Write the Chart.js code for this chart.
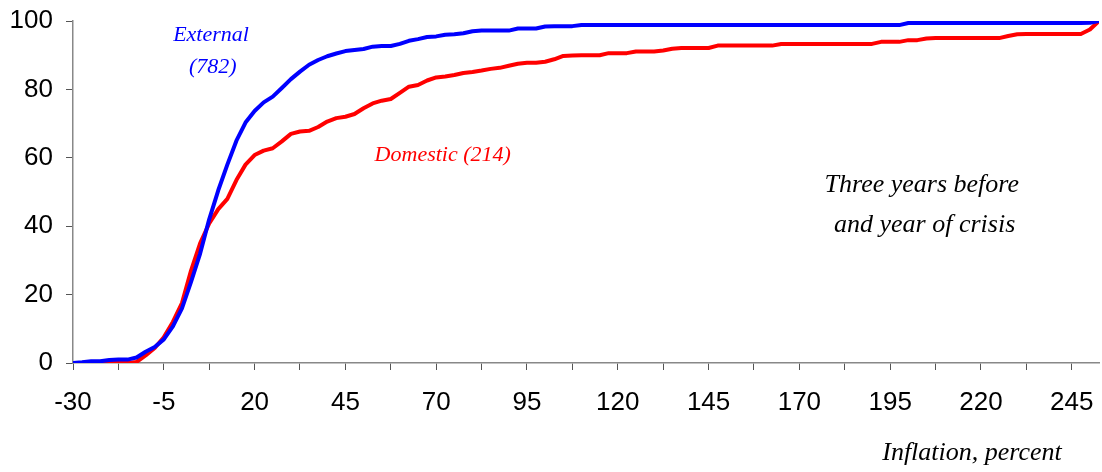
<!DOCTYPE html>
<html>
<head>
<meta charset="utf-8">
<script src="https://cdn.jsdelivr.net/npm/chart.js@4/dist/chart.umd.min.js"></script>
<style>
  html, body { margin: 0; padding: 0; background: #fff; }
  #wrap { width: 1102px; height: 472px; position: relative; }
</style>
</head>
<body>
<div id="wrap"><canvas id="cdfChart"></canvas></div>
<script>
// inflation (percent) at which each cumulative share is read
const inflation = [
  -30, -27.5, -25, -22.5, -20, -17.5, -15, -12.5, -10, -7.5,
  -5, -2.5, 0, 2.5, 5, 7.5, 10, 12.5, 15, 17.5,
  20, 22.5, 25, 27.5, 30, 32.5, 35, 37.5, 40, 42.5,
  45, 47.5, 50, 52.5, 55, 57.5, 60, 62.5, 65, 67.5,
  70, 72.5, 75, 77.5, 80, 82.5, 85, 87.5, 90, 92.5,
  95, 97.5, 100, 102.5, 105, 107.5, 110, 112.5, 115, 117.5,
  120, 122.5, 125, 127.5, 130, 132.5, 135, 137.5, 140, 142.5,
  145, 147.5, 150, 152.5, 155, 157.5, 160, 162.5, 165, 167.5,
  170, 172.5, 175, 177.5, 180, 182.5, 185, 187.5, 190, 192.5,
  195, 197.5, 200, 202.5, 205, 207.5, 210, 212.5, 215, 217.5,
  220, 222.5, 225, 227.5, 230, 232.5, 235, 237.5, 240, 242.5,
  245, 247.5, 250, 252.5
];

// cumulative percent of episodes, external crises (782)
const external = [
  0, 0.2, 0.5, 0.5, 0.9, 1, 1, 1.6, 3.3, 4.7,
  6.9, 10.7, 16, 23.7, 32, 42, 50.5, 58, 65, 70.3,
  73.7, 76.2, 77.9, 80.4, 83, 85.2, 87.2, 88.6, 89.7, 90.5,
  91.2, 91.5, 91.8, 92.5, 92.7, 92.7, 93.3, 94.2, 94.7, 95.3,
  95.5, 96, 96.1, 96.4, 97, 97.2, 97.2, 97.2, 97.2, 97.8,
  97.8, 97.8, 98.4, 98.5, 98.5, 98.5, 98.8, 98.8, 98.8, 98.8,
  98.8, 98.8, 98.8, 98.8, 98.8, 98.8, 98.8, 98.8, 98.8, 98.8,
  98.8, 98.8, 98.8, 98.8, 98.8, 98.8, 98.8, 98.8, 98.8, 98.8,
  98.8, 98.8, 98.8, 98.8, 98.8, 98.8, 98.8, 98.8, 98.8, 98.8,
  98.8, 98.8, 99.4, 99.4, 99.4, 99.4, 99.4, 99.4, 99.4, 99.4,
  99.4, 99.4, 99.4, 99.4, 99.4, 99.4, 99.4, 99.4, 99.4, 99.4,
  99.4, 99.4, 99.5, 100
];

// cumulative percent of episodes, domestic crises (214)
const domestic = [
  0, 0, 0, 0, 0, 0, 0, 0.3, 2.2, 4.4,
  7.5, 12, 17.5, 27, 35, 40.8, 45, 48, 53.5, 58,
  60.8, 62.1, 62.8, 64.8, 67, 67.7, 67.9, 69, 70.6, 71.6,
  72, 72.8, 74.5, 75.9, 76.7, 77.2, 79, 80.8, 81.3, 82.6,
  83.5, 83.8, 84.2, 84.8, 85.1, 85.5, 86, 86.3, 86.9, 87.5,
  87.8, 87.8, 88.1, 88.8, 89.8, 89.9, 90, 90, 90, 90.6,
  90.6, 90.6, 91.1, 91.1, 91.1, 91.4, 91.9, 92.1, 92.1, 92.1,
  92.1, 92.8, 92.8, 92.8, 92.8, 92.8, 92.8, 92.8, 93.3, 93.3,
  93.3, 93.3, 93.3, 93.3, 93.3, 93.3, 93.3, 93.3, 93.3, 93.9,
  93.9, 93.9, 94.4, 94.4, 94.9, 95, 95, 95, 95, 95,
  95, 95, 95, 95.6, 96.1, 96.2, 96.2, 96.2, 96.2, 96.2,
  96.2, 96.2, 97.5, 100
];

// labelled x ticks; an unlabelled tick mark sits halfway between each pair
const xTickLabels = [-30, -5, 20, 45, 70, 95, 120, 145, 170, 195, 220, 245];
const yTicks = [0, 20, 40, 60, 80, 100];

const xTickMarks = [];
xTickLabels.forEach((v, i) => {
  xTickMarks.push(v);
  if (i < xTickLabels.length - 1) xTickMarks.push((v + xTickLabels[i + 1]) / 2);
});

const toPoints = ys => inflation.map((x, i) => ({ x: x, y: ys[i] }));

// free text placed in data units
const notes = [
  { text: "External", x: 8, y: 95.9, color: "#0000ff", size: 22 },
  { text: "(782)", x: 8.5, y: 86.5, color: "#0000ff", size: 22 },
  { text: "Domestic (214)", x: 71.8, y: 60.8, color: "#ff0000", size: 22 },
  { text: "Three years before", x: 203.7, y: 52, color: "#000", size: 26 },
  { text: "and year of crisis", x: 204.5, y: 40.4, color: "#000", size: 26 }
];

const notesPlugin = {
  id: "notes",
  afterDraw(chart) {
    const c = chart.ctx;
    const xs = chart.scales.x, ys = chart.scales.y;
    c.save();
    c.textAlign = "center";
    c.textBaseline = "middle";
    notes.forEach(n => {
      c.font = "italic " + n.size + "px 'Liberation Serif', 'DejaVu Serif', serif";
      c.fillStyle = n.color;
      c.fillText(n.text, xs.getPixelForValue(n.x), ys.getPixelForValue(n.y));
    });
    // axis title under the tick labels, right side
    c.font = "italic 26px 'Liberation Serif', 'DejaVu Serif', serif";
    c.fillStyle = "#000";
    c.textBaseline = "alphabetic";
    c.fillText("Inflation, percent", 972, 460);
    c.restore();
  }
};

const ctx = document.getElementById("cdfChart");

new Chart(ctx, {
    type: "line",
    data: {
        datasets: [
            {
                label: "External (782)",
                data: toPoints(external),
                borderColor: "#0000ff",
                borderWidth: 4,
                pointRadius: 0,
                tension: 0,
                borderJoinStyle: "round"
            },
            {
                label: "Domestic (214)",
                data: toPoints(domestic),
                borderColor: "#ff0000",
                borderWidth: 4,
                pointRadius: 0,
                tension: 0,
                borderJoinStyle: "round"
            }
        ]
    },
    options: {
        responsive: true,
        maintainAspectRatio: false,
        animation: false,
        layout: {
            padding: { top: 21, right: 3, bottom: 0, left: 0 }
        },
        plugins: {
            legend: { display: false },
            tooltip: { enabled: false }
        },
        scales: {
            x: {
                type: "linear",
                min: -30,
                max: 252.5,
                afterBuildTicks: scale => {
                    scale.ticks = xTickMarks.map(v => ({ value: v }));
                },
                afterFit: scale => {
                    scale.height = 109;
                    scale.paddingLeft = 0;
                    scale.paddingRight = 0;
                },
                ticks: {
                    autoSkip: false,
                    maxRotation: 0,
                    padding: 17,
                    color: "#000",
                    font: { family: "'Liberation Sans', Arial, sans-serif", size: 26 },
                    callback: v => (xTickLabels.includes(v) ? String(v) : "")
                },
                grid: {
                    drawOnChartArea: false,
                    drawTicks: true,
                    tickLength: 7,
                    color: "#555"
                },
                border: { display: true, color: "#888", width: 1.5 }
            },
            y: {
                min: 0,
                max: 100,
                afterBuildTicks: scale => {
                    scale.ticks = yTicks.map(v => ({ value: v }));
                },
                afterFit: scale => {
                    scale.width = 73;
                    scale.paddingTop = 0;
                    scale.paddingBottom = 0;
                },
                ticks: {
                    padding: 13,
                    color: "#000",
                    font: { family: "'Liberation Sans', Arial, sans-serif", size: 26 }
                },
                grid: {
                    drawOnChartArea: false,
                    drawTicks: true,
                    tickLength: 7,
                    color: "#555"
                },
                border: { display: true, color: "#888", width: 1.5 }
            }
        }
    },
    plugins: [notesPlugin]
});
</script>
</body>
</html>
